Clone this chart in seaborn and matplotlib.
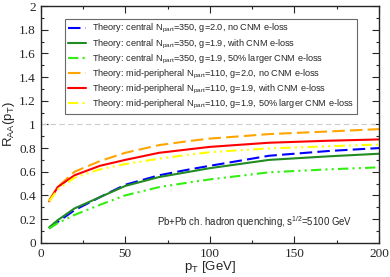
import numpy as np
import pandas as pd
import seaborn as sns
import matplotlib.pyplot as plt
from matplotlib.ticker import MultipleLocator

# pT grid [GeV]
pt = [5, 10, 20, 35, 50, 70, 88, 100, 135, 170, 200]

# R_AA
cen_g20_nocnm = [0.12, 0.175, 0.275, 0.385, 0.49, 0.57, 0.62, 0.65, 0.735, 0.775, 0.80]
cen_g19_cnm = [0.13, 0.19, 0.29, 0.385, 0.48, 0.555, 0.60, 0.63, 0.70, 0.73, 0.752]
cen_g19_cnm50 = [0.12, 0.165, 0.235, 0.32, 0.40, 0.47, 0.51, 0.535, 0.595, 0.62, 0.637]
mid_g20_nocnm = [0.36, 0.47, 0.60, 0.69, 0.76, 0.825, 0.86, 0.88, 0.918, 0.94, 0.96]
mid_g19_cnm = [0.35, 0.47, 0.57, 0.65, 0.70, 0.76, 0.79, 0.81, 0.845, 0.862, 0.873]
mid_g19_cnm50 = [0.35, 0.45, 0.55, 0.62, 0.665, 0.71, 0.745, 0.765, 0.797, 0.815, 0.83]

labels = [
    r"Theory: central N$_\mathregular{part}$=350, g=2.0, no CNM e-loss",
    r"Theory: central N$_\mathregular{part}$=350, g=1.9, with CNM e-loss",
    r"Theory: central N$_\mathregular{part}$=350, g=1.9, 50% larger CNM e-loss",
    r"Theory: mid-peripheral N$_\mathregular{part}$=110, g=2.0, no CNM e-loss",
    r"Theory: mid-peripheral N$_\mathregular{part}$=110, g=1.9, with CNM e-loss",
    r"Theory: mid-peripheral N$_\mathregular{part}$=110, g=1.9, 50% larger CNM e-loss",
]
series = [cen_g20_nocnm, cen_g19_cnm, cen_g19_cnm50, mid_g20_nocnm, mid_g19_cnm, mid_g19_cnm50]
colors = ["#0000ff", "#228b22", "#33ee11", "#ffa500", "#ff0000", "#ffff00"]
styles = [(0, (6, 2.5)), "-", (0, (5, 2, 1, 2, 1, 2)), (0, (6, 2.5)), "-", (0, (5, 2, 1, 2, 1, 2))]

sns.set_style("ticks")
plt.rcParams['font.family'] = ['Liberation Sans', 'DejaVu Sans']
plt.rcParams['mathtext.fontset'] = 'custom'
plt.rcParams['mathtext.rm'] = 'Liberation Sans'

fig = plt.figure(figsize=(3.9, 2.77), dpi=100)
ax = fig.add_axes([0.1044, 0.1238, 0.8674, 0.8542])

ax.axhline(1.0, color="#cccccc", lw=0.8, ls=(0, (5, 3)), zorder=1)

for vals, lab, c, ls in zip(series, labels, colors, styles):
    df = pd.DataFrame({"pt": pt, "raa": vals})
    sns.lineplot(data=df, x="pt", y="raa", ax=ax, color=c, linestyle=ls,
                 lw=1.5, label=lab)

ax.set_xlim(0, 200)
ax.set_ylim(0, 2)
ax.xaxis.set_major_locator(MultipleLocator(50))
ax.xaxis.set_minor_locator(MultipleLocator(25))
ax.yaxis.set_major_locator(MultipleLocator(0.2))
ax.yaxis.set_minor_locator(MultipleLocator(0.1))
ax.tick_params(which="both", direction="in", top=True, right=True, width=0.8)
ax.tick_params(which="major", length=5)
ax.tick_params(which="minor", length=2.5)
ax.set_yticks([0, 0.2, 0.4, 0.6, 0.8, 1, 1.2, 1.4, 1.6, 1.8, 2])
ax.set_yticklabels(["0", "0.2", "0.4", "0.6", "0.8", "1", "1.2", "1.4", "1.6", "1.8", "2"])
for t in ax.get_xticklabels() + ax.get_yticklabels():
    t.set_fontfamily("Liberation Serif")
    t.set_fontsize(9.5)
for s in ax.spines.values():
    s.set_linewidth(1.0)

ax.set_xlabel(r"p$_\mathregular{T}$ [GeV]", fontsize=9.5, labelpad=0)
ax.set_ylabel(r"R$_\mathregular{AA}$(p$_\mathregular{T}$)", fontsize=9.5, labelpad=1)
ax.xaxis.set_label_coords(0.5, -0.07)
ax.yaxis.set_label_coords(-0.07, 0.5)

ax.text(0.922, 0.087, r"Pb+Pb ch. hadron quenching, s$^\mathregular{1/2}$=5100 GeV",
        transform=ax.transAxes, ha="right", va="center", fontsize=6.9)

leg = ax.legend(loc="upper left", bbox_to_anchor=(0.072, 0.945), fontsize=6.6,
                frameon=True, fancybox=False, handlelength=1.9, handletextpad=0.7,
                labelspacing=0.22, borderpad=0.35, borderaxespad=0)
leg.get_frame().set_edgecolor("#444444")
leg.get_frame().set_linewidth(0.8)

fig.savefig("out.png", dpi=100)
